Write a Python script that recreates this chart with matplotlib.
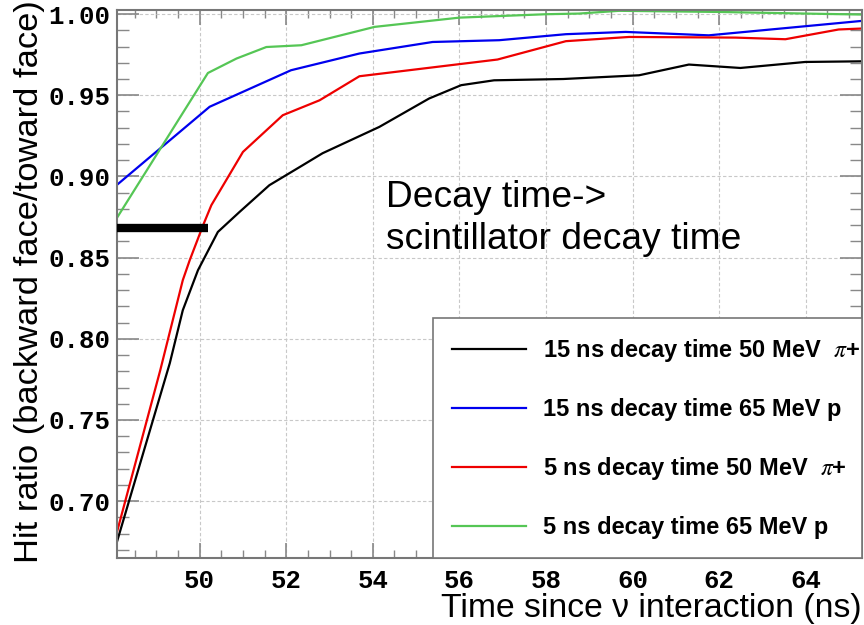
import matplotlib
matplotlib.use("Agg")
import matplotlib.pyplot as plt
from matplotlib.ticker import MultipleLocator, FormatStrFormatter

plt.rcParams['mathtext.fontset'] = 'stix'

# ---- data ----
black_t = [48.09, 49.31, 49.61, 49.96, 50.42, 50.92, 51.61, 52.38, 52.84, 54.15, 55.30, 56.04, 56.80, 58.40, 60.15, 61.30, 62.49, 63.99, 65.29]
black_v = [0.675, 0.785, 0.8176, 0.8422, 0.8658, 0.8781, 0.8946, 0.9069, 0.9143, 0.9305, 0.948, 0.9562, 0.9592, 0.9600, 0.9623, 0.9689, 0.9668, 0.9705, 0.9709]

blue_t = [48.08, 50.23, 52.11, 53.69, 55.38, 56.92, 58.46, 59.84, 61.76, 65.30]
blue_v = [0.8946, 0.9429, 0.9654, 0.9757, 0.9828, 0.9839, 0.9876, 0.9890, 0.9869, 0.9958]

red_t = [48.08, 49.09, 49.61, 49.77, 50.08, 50.27, 51.00, 51.92, 52.77, 53.69, 56.88, 58.46, 59.92, 62.38, 63.53, 64.76, 65.30]
red_v = [0.680, 0.7807, 0.8361, 0.8484, 0.870, 0.8823, 0.9151, 0.9377, 0.9469, 0.9617, 0.972, 0.9833, 0.9859, 0.9855, 0.9845, 0.9905, 0.9911]

green_t = [48.08, 50.19, 50.85, 51.54, 52.35, 54.04, 56.00, 58.00, 58.76, 59.69, 61.99, 63.99, 65.29]
green_v = [0.8741, 0.9637, 0.9726, 0.9797, 0.9808, 0.9921, 0.9978, 0.9999, 1.0003, 1.0020, 1.0013, 1.0003, 0.9997]

labels = ["15 ns decay time 50 MeV  $\\pi$+",
          "15 ns decay time 65 MeV p",
          "5 ns decay time 50 MeV  $\\pi$+",
          "5 ns decay time 65 MeV p"]
colors = ["#000000", "#0000ee", "#ee0000", "#55c655"]

bar_v = 0.868
bar_t = [48.09, 50.19]

xlim = (48.09, 65.3)
ylim = (0.665, 1.0025)

fig = plt.figure(figsize=(8.64, 6.25), dpi=100)
ax = fig.add_axes([0.1354, 0.1072, 0.9977 - 0.1354, 0.984 - 0.1072])

series = [(black_t, black_v), (blue_t, blue_v), (red_t, red_v), (green_t, green_v)]
handles = []
for (t, v), c, lab in zip(series, colors, labels):
    h, = ax.plot(t, v, color=c, lw=1.6, label=lab, clip_on=True)
    handles.append(h)

ax.plot(bar_t, [bar_v, bar_v], color='black', lw=6, solid_capstyle='butt', zorder=5)

ax.set_xlim(*xlim)
ax.set_ylim(*ylim)

ax.xaxis.set_major_locator(MultipleLocator(2))
ax.xaxis.set_minor_locator(MultipleLocator(0.5))
ax.yaxis.set_major_locator(MultipleLocator(0.05))
ax.yaxis.set_minor_locator(MultipleLocator(0.01))
ax.yaxis.set_major_formatter(FormatStrFormatter('%.2f'))
ax.xaxis.set_major_formatter(FormatStrFormatter('%d'))

ax.grid(True, which='major', color='#c8c8c8', ls=(0, (3, 2)), lw=0.8)

tc = '#888888'
ax.tick_params(axis='y', which='major', direction='in', length=16, width=1.2, color=tc, left=True, right=True, pad=5)
ax.tick_params(axis='y', which='minor', direction='in', length=8.6, width=1.0, color=tc, left=True, right=True)
ax.tick_params(axis='x', which='major', direction='in', length=10.8, width=1.2, color=tc, top=True, bottom=True, pad=8)
ax.tick_params(axis='x', which='minor', direction='in', length=5.8, width=1.0, color=tc, top=True, bottom=True)

for lab in ax.get_xticklabels() + ax.get_yticklabels():
    lab.set_fontfamily('Liberation Mono')
    lab.set_fontweight('bold')
    lab.set_fontsize(18.5)

for s in ax.spines.values():
    s.set_color('#777777')
    s.set_linewidth(1.5)

ax.set_ylabel("Hit ratio (backward face/toward face)", fontsize=24.8, family='Liberation Sans')
ax.yaxis.set_label_coords(-0.0966, 0.5046)
ax.set_xlabel("Time since ν interaction (ns)", fontsize=24.3, family='Liberation Sans', ha='right', va='baseline')
ax.xaxis.set_label_coords(1.0, -0.1075)

ax.text(0.361, 0.69, "Decay time->\nscintillator decay time", transform=ax.transAxes,
        fontsize=26.7, family='Liberation Sans', ha='left', va='top', linespacing=1.28)

leg = ax.legend(handles=handles, loc='lower left', bbox_to_anchor=(0.4238, 0.0, 0.5762, 0.4294),
                mode='expand', borderaxespad=0, fancybox=False, framealpha=1,
                edgecolor='#777777', handlelength=3.13, handletextpad=0.74,
                labelspacing=1.44, borderpad=0.8,
                prop={'family': 'Liberation Sans', 'weight': 'bold', 'size': 17})
leg.get_frame().set_linewidth(1.2)
for h in leg.get_lines():
    h.set_linewidth(1.6)

fig.savefig("out.png", dpi=100)
